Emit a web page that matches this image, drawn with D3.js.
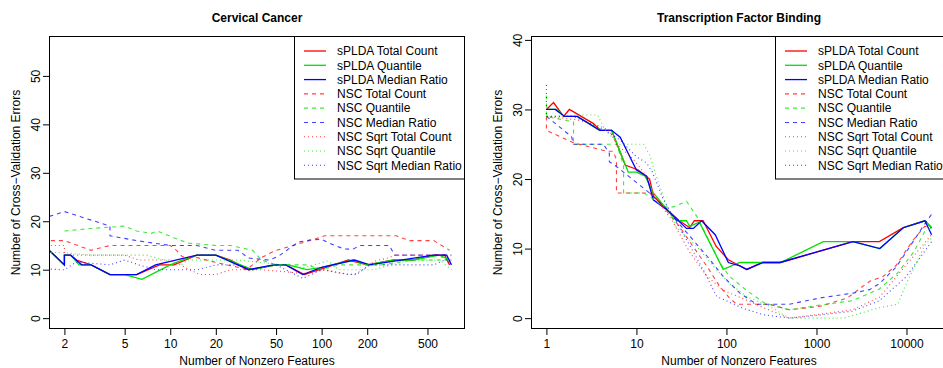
<!DOCTYPE html>
<html>
<head>
<meta charset="utf-8">
<script src="https://cdn.jsdelivr.net/npm/d3@7"></script>
<style>
  body { margin: 0; background: #fff; }
  svg { display: block; font-family: "Liberation Sans", Arial, Helvetica, sans-serif; }
</style>
</head>
<body>
<svg id="chart" width="943" height="368"></svg>
<script>
// legend labels, in drawing order
const seriesNames = [
  "sPLDA Total Count", "sPLDA Quantile", "sPLDA Median Ratio",
  "NSC Total Count", "NSC Quantile", "NSC Median Ratio",
  "NSC Sqrt Total Count", "NSC Sqrt Quantile", "NSC Sqrt Median Ratio"
];
const seriesColors = ["#ff0000", "#00e000", "#0000ff"];
const seriesDash = [null, "4,4", "1,3"];

// Cervical cancer: [number of nonzero features, CV errors]
const cervSpldaTotal = [[1,20],[2,11],[2,13],[2.2,13],[2.4,12],[3,11],[4,9],[6,9],[8.5,11],[10.6,11],[15,13],[20,13],[25,12],[33,10],[50,11],[58,11],[77,9],[120,11],[150,12],[200,11],[300,12],[400,12],[550,13],[650,13],[700,11]];
const cervSpldaQuant = [[1,20],[2,11],[2,13],[2.2,13],[2.5,11],[3,11],[4,9],[5,9],[6.5,8],[10,11],[12,12],[15,13],[20,13],[35,10],[50,11],[60,11],[80,10],[100,10.5],[160,12],[200,11],[300,12],[400,12],[600,13],[700,12]];
const cervSpldaMed = [[1,20],[2,11],[2,13],[2.2,13],[2.6,11],[3,11],[4,9],[6,9],[8,11],[15,13],[20,13],[33,10],[48,11],[58,11],[75,9],[100,10.5],[165,12],[208,11],[546,13],[670,13],[720,11]];
const cervNscTotal = [[1,16],[2,16],[3,14],[4,15],[10,15],[11,14],[12,12.7],[15,12.5],[20,11.5],[28,10.5],[32,10],[40,12.5],[49,13.9],[63,14.9],[81,15.9],[105,17],[310,17],[380,16],[550,16],[700,14]];
const cervNscQuant = [[2,18],[3,18.5],[5,19],[6,18],[7.5,17.5],[8.2,18],[13,15.5],[20,15],[25,15],[35,14],[40,12],[50,11],[80,11],[100,10],[130,11],[250,11],[400,12],[700,12]];
const cervNscMed = [[1,19],[2,22],[4,19],[4,17],[6,16],[10,15],[15,15],[20,14],[28,14],[33,12.4],[45,12],[52,12.8],[70,15.7],[83,16.1],[100,16.3],[110,15.6],[140,14.3],[160,14.2],[180,15],[280,15],[304,13],[720,13]];
const cervSqrtTotal = [[1,15],[2,15],[2,13],[5,13],[6.2,12],[10,12],[15.6,9],[20,9],[25,10],[30,10],[40,10],[57,9.6],[75,9.2],[105,10],[120,9.6],[150,9],[170,9.2],[225,11.8],[280,12.5],[304,13],[600,13],[720,11]];
const cervSqrtQuant = [[1,13.7],[2,13.5],[3,13],[7,13],[10,11.6],[12,11.1],[13,12],[28,12],[45,11.3],[65,10.8],[75,10.4],[110,11.8],[130,10],[220,10],[360,11.8],[600,12],[720,10]];
const cervSqrtMed = [[1,10.5],[1.9,10],[2,10],[2.4,11.6],[4,11],[5,12],[6.2,11],[8,10],[15,10],[20,11],[28,11],[35,10],[50,11],[58,10],[75,8.2],[100,10],[153,9],[170,9],[208,11],[550,11],[650,12],[720,12]];

// Transcription factor binding
const tfSpldaTotal = [[1,30],[1.2,31],[1.55,29],[1.8,30],[3.3,28],[4,27],[5.3,27],[7.5,22],[10.5,21.3],[14,20],[15.5,17.5],[22,15.6],[30,14],[39,13],[44,14],[55,14],[77,10.3],[105,8.4],[120,8],[168,7],[250,8],[400,8],[2500,11],[5000,11],[9200,13],[16000,14],[19000,13]];
const tfSpldaQuant = [[1,30],[1.3,30],[1.55,29],[2.2,29],[4,27],[5.3,27],[8.1,21],[10,21],[12.5,20.4],[15.4,18],[22,15.6],[28,14],[36,14],[39,13.2],[50,13.8],[92,7],[141,8],[400,8],[1190,11],[2550,11],[5050,10],[9200,13],[16000,14],[19000,13]];
const tfSpldaMed = [[1,30],[1.25,30],[1.6,29],[2.2,29],[3.9,27],[5.3,27],[6.6,26],[10,21.3],[13,20.4],[15.4,17],[21.7,15.6],[36,12.9],[43,12.9],[53,14],[75,12],[105,8],[141,7.5],[168,7],[256,8],[392,8],[2550,11],[5050,10],[9200,13],[16000,14],[19000,12]];
const tfNscTotal = [[1,29],[1,27],[2,25.2],[4.7,24],[5.5,24],[6,22.8],[6,18],[14,18],[17,17],[22,15.3],[30,13.2],[40,10.8],[61,7.4],[85,4.5],[108,2.9],[130,2],[300,2],[500,1.2],[1100,1.7],[2200,2.9],[3900,5.3],[5500,6],[7700,7.6],[11800,11.2],[16000,13.2],[19000,13]];
const tfNscQuant = [[1,32],[1,29],[2,28.2],[2,25],[6,25],[7.2,22],[7.2,18],[12,18],[14,17.5],[20,16],[26,16],[36,16.8],[47,14.6],[66,10.8],[85,7.9],[108,6],[167,4],[270,2.1],[500,1.2],[1000,1.8],[2500,2.5],[5000,4.2],[8000,6.5],[12000,9.5],[16000,12.5],[19000,13]];
const tfNscMed = [[1,29],[1.9,26.1],[2,25],[4.3,25],[5,23.7],[5,22.5],[6,21.8],[14,18],[22,15.6],[34,12.7],[61,8.9],[92,6],[141,3.6],[216,2],[500,2],[1090,2.9],[2550,3.6],[3890,4.1],[5050,5],[7740,7.4],[11830,11],[15280,13.2],[18940,14.9]];
const tfSqrtTotal = [[1,29],[2.2,28.5],[3.6,27.8],[5,27],[6,25],[9,23],[12,21],[17,17],[25,14],[39,9.5],[61,6],[92,4],[141,3],[270,1.4],[400,0.5],[500,0],[1000,0.5],[2500,1.2],[5000,3],[9000,7],[19000,12]];
const tfSqrtQuant = [[1,29],[2.5,29.2],[3.7,29.2],[4.5,27],[6.5,25],[12,25],[14,23.5],[17,20],[22,16],[28,13],[47,10.3],[77,7],[108,5],[167,3.1],[300,1.7],[500,0],[2000,0],[5000,1.5],[8000,2],[10000,5],[16000,10.5],[19000,11.5]];
const tfSqrtMed = [[1,33.5],[1,29],[2,29],[3,28],[4.5,27],[6.6,25.6],[10,23.2],[13,22.3],[15,21],[20,17],[30,13],[39,10.5],[55,7],[78,3.1],[154,1.4],[255,0.5],[500,0],[1000,0.4],[2500,1],[5000,2.5],[10000,6],[19000,11]];

const cervXlim = [2, 700], cervYlim = [0, 56];
const tfXlim = [1, 19000], tfYlim = [0, 39];
const cervXTicks = [2, 5, 10, 20, 50, 100, 200, 500];
const tfXTicks = [1, 10, 100, 1000, 10000];
const cervYTicks = [0, 10, 20, 30, 40, 50];
const tfYTicks = [0, 10, 20, 30, 40];

const svg = d3.select("#chart");

// R style: extend the range by 4% on each side
function padLog(lim) {
  const a = Math.log10(lim[0]), b = Math.log10(lim[1]), p = (b - a) * 0.04;
  return [Math.pow(10, a - p), Math.pow(10, b + p)];
}
function padLin(lim) {
  const p = (lim[1] - lim[0]) * 0.04;
  return [lim[0] - p, lim[1] + p];
}

function styleLine(sel, i) {
  sel.attr("stroke", seriesColors[i % 3])
    .attr("stroke-width", i < 3 ? 1.3 : 1.1)
    .attr("stroke-opacity", i < 3 ? 1 : 0.75)
    .attr("stroke-dasharray", seriesDash[Math.floor(i / 3)]);
}

function drawPanel(cfg) {
  const { left, right, top, bottom } = cfg.box;
  const x = d3.scaleLog().domain(padLog(cfg.xlim)).range([left, right]);
  const y = d3.scaleLinear().domain(padLin(cfg.ylim)).range([bottom, top]);
  const g = svg.append("g");

  g.append("clipPath").attr("id", cfg.id + "-clip")
    .append("rect").attr("x", left).attr("y", top)
    .attr("width", right - left).attr("height", bottom - top);

  const line = d3.line().x(d => x(d[0])).y(d => y(d[1]));
  const lines = g.append("g").attr("clip-path", `url(#${cfg.id}-clip)`);
  cfg.series.forEach((s, i) => {
    lines.append("path").attr("d", line(s)).attr("fill", "none").call(styleLine, i);
  });

  // axes
  const xAxis = g.append("g").attr("transform", `translate(0,${bottom})`)
    .call(d3.axisBottom(x).tickValues(cfg.xTicks).tickFormat(d3.format("d")).tickSize(6).tickPadding(4));
  const yAxis = g.append("g").attr("transform", `translate(${left},0)`)
    .call(d3.axisLeft(y).tickValues(cfg.yTicks).tickSize(6));
  [xAxis, yAxis].forEach(a => {
    a.select(".domain").remove();
    a.selectAll("text").attr("font-size", 12).attr("fill", "#000").attr("font-family", null);
    a.selectAll("line").attr("stroke", "#000");
  });
  yAxis.selectAll(".tick text")
    .attr("transform", "rotate(-90)")
    .attr("x", 0).attr("y", -9.5).attr("dy", 0)
    .attr("text-anchor", "middle");

  g.append("rect").attr("x", left + 0.5).attr("y", top + 0.5)
    .attr("width", right - left - 1).attr("height", bottom - top - 1)
    .attr("fill", "none").attr("stroke", "#000");

  // titles
  const cx = (left + right) / 2;
  g.append("text").attr("x", cx).attr("y", 21.5).attr("text-anchor", "middle")
    .attr("font-size", 12).attr("font-weight", "bold").text(cfg.title);
  g.append("text").attr("x", cx).attr("y", 365).attr("text-anchor", "middle")
    .attr("font-size", 12).text("Number of Nonzero Features");
  g.append("text").attr("transform", `translate(${left - 29.5},${(top + bottom) / 2}) rotate(-90)`)
    .attr("text-anchor", "middle").attr("font-size", 12)
    .text("Number of Cross\u2212Validation Errors");

  // legend
  const lg = g.append("g");
  lg.append("rect").attr("x", cfg.legendX + 0.5).attr("y", top + 0.5)
    .attr("width", right - cfg.legendX - 1).attr("height", 142.5)
    .attr("fill", "#fff").attr("stroke", "#000");
  seriesNames.forEach((name, i) => {
    const ry = 51 + i * 14.29;
    lg.append("line")
      .attr("x1", cfg.legendX + 10).attr("x2", cfg.legendX + 32)
      .attr("y1", ry).attr("y2", ry)
      .call(styleLine, i);
    lg.append("text").attr("x", cfg.legendX + 43).attr("y", ry + 4.3)
      .attr("font-size", 12).text(name);
  });
}

drawPanel({
  id: "cerv", title: "Cervical Cancer",
  box: { left: 49, right: 465, top: 36, bottom: 329 },
  xlim: cervXlim, ylim: cervYlim, xTicks: cervXTicks, yTicks: cervYTicks,
  legendX: 294,
  series: [cervSpldaTotal, cervSpldaQuant, cervSpldaMed, cervNscTotal, cervNscQuant, cervNscMed, cervSqrtTotal, cervSqrtQuant, cervSqrtMed]
});

drawPanel({
  id: "tf", title: "Transcription Factor Binding",
  box: { left: 531, right: 947, top: 36, bottom: 329 },
  xlim: tfXlim, ylim: tfYlim, xTicks: tfXTicks, yTicks: tfYTicks,
  legendX: 775,
  series: [tfSpldaTotal, tfSpldaQuant, tfSpldaMed, tfNscTotal, tfNscQuant, tfNscMed, tfSqrtTotal, tfSqrtQuant, tfSqrtMed]
});
</script>
</body>
</html>
